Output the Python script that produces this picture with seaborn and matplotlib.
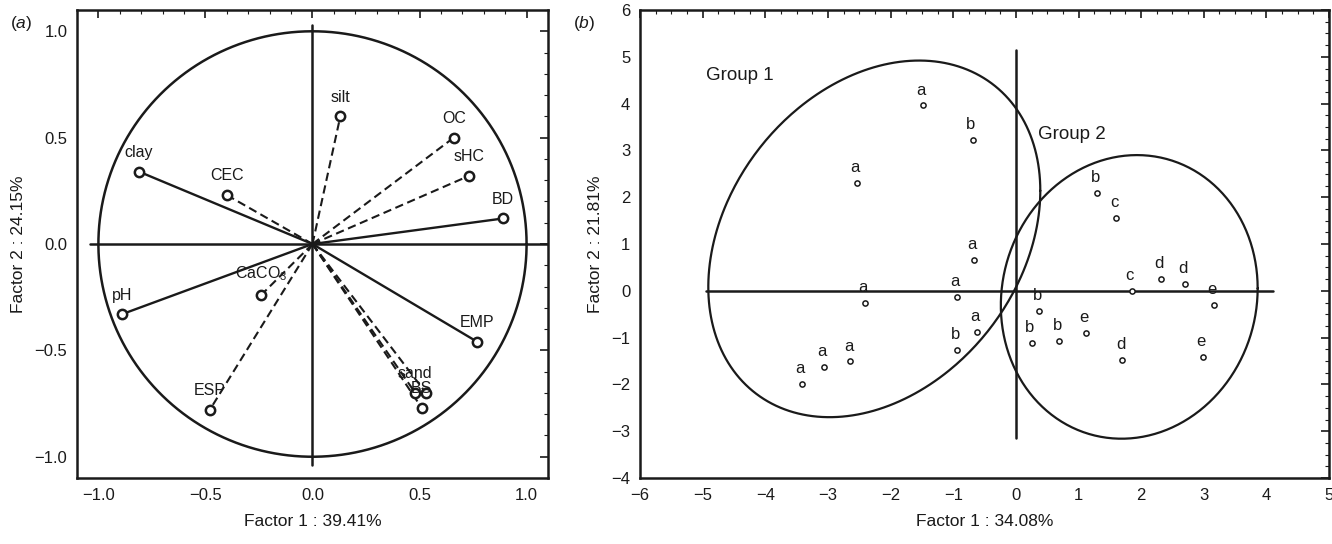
import numpy as np
import pandas as pd
import matplotlib
matplotlib.use('Agg')
import matplotlib.pyplot as plt
import seaborn as sns
from matplotlib.ticker import MultipleLocator

# (a) loadings of the soil variables on factor 1 / factor 2
variables = ['clay', 'CEC', 'silt', 'OC', 'sHC', 'BD', 'pH', 'CaCO$_3$',
             'ESP', 'EMP', 'sand', '', 'BS']
load_f1 = [-0.81, -0.40, 0.13, 0.66, 0.73, 0.89, -0.89, -0.24,
           -0.48, 0.77, 0.48, 0.53, 0.51]
load_f2 = [0.34, 0.23, 0.60, 0.50, 0.32, 0.12, -0.33, -0.24,
           -0.78, -0.46, -0.70, -0.70, -0.77]
solid_vars = ['clay', 'BD', 'pH', 'EMP']

# (b) sample scores, letter = grouping
letters = ['a', 'b', 'a', 'a', 'a', 'a', 'a', 'b', 'a', 'a', 'a',
           'b', 'c', 'd', 'd', 'c', 'e', 'b', 'b', 'b', 'e', 'd', 'e']
score_f1 = [-1.49, -0.69, -2.54, -0.67, -0.94, -2.41, -0.62, -0.94, -2.64, -3.07, -3.41,
            1.30, 1.60, 2.31, 2.70, 1.85, 3.16, 0.37, 0.25, 0.69, 1.12, 1.70, 2.98]
score_f2 = [3.96, 3.23, 2.31, 0.66, -0.13, -0.26, -0.87, -1.27, -1.51, -1.63, -2.00,
            2.10, 1.55, 0.26, 0.14, -0.01, -0.31, -0.44, -1.11, -1.08, -0.90, -1.48, -1.42]

# group ellipses: centre, half extents, correlation
ell_names = ['Group 1', 'Group 2']
ell_cx = [-2.26, 1.81]
ell_cy = [1.11, -0.13]
ell_sx = [2.65, 2.05]
ell_sy = [3.81, 3.03]
ell_rho = [0.27, 0.06]

sns.set_style('white')
plt.rcParams['font.family'] = ['Liberation Sans', 'DejaVu Sans']
plt.rcParams['mathtext.fontset'] = 'custom'
plt.rcParams['mathtext.rm'] = 'Liberation Sans'
plt.rcParams['mathtext.it'] = 'Liberation Sans:italic'

fig = plt.figure(figsize=(13.32, 5.44), dpi=100)
ax1 = fig.add_axes([0.0578, 0.1213, 0.3536, 0.8603])
ax2 = fig.add_axes([0.4805, 0.1213, 0.5173, 0.8603])

ink = '#1a1a1a'

def style_axes(ax, major, minor):
    ax.xaxis.set_major_locator(MultipleLocator(major))
    ax.yaxis.set_major_locator(MultipleLocator(major))
    ax.xaxis.set_minor_locator(MultipleLocator(minor))
    ax.yaxis.set_minor_locator(MultipleLocator(minor))
    ax.tick_params(which='both', direction='in', top=True, right=True,
                   color=ink, labelsize=12, labelcolor=ink, pad=7)
    ax.tick_params(which='major', length=6, width=1.2)
    ax.tick_params(which='minor', length=3, width=0.8)
    for s in ax.spines.values():
        s.set_linewidth(1.8)
        s.set_color(ink)

# ---------- (a) ----------
df_a = pd.DataFrame({'f1': load_f1, 'f2': load_f2, 'var': variables})
t = np.linspace(0, 2 * np.pi, 400)
ax1.plot(np.cos(t), np.sin(t), color=ink, lw=1.8)
ax1.plot([-1.04, 1.1], [0, 0], color=ink, lw=1.8)
ax1.plot([0, 0], [-1.04, 1.03], color=ink, lw=1.8)
for x, y, v in zip(load_f1, load_f2, variables):
    if v in solid_vars:
        ax1.plot([0, x], [0, y], color=ink, lw=1.7)
    else:
        ax1.plot([0, x], [0, y], color=ink, lw=1.5, dashes=(4, 2.2))
sns.scatterplot(data=df_a, x='f1', y='f2', ax=ax1, marker='o', s=45,
                facecolor='white', edgecolor=ink, linewidth=1.8, zorder=5)
for x, y, v in zip(load_f1, load_f2, variables):
    ax1.text(x, y + 0.055, v, ha='center', va='bottom', fontsize=11.5, color=ink, zorder=6)
ax1.set_xlim(-1.1, 1.1)
ax1.set_ylim(-1.1, 1.1)
style_axes(ax1, 0.5, 0.1)
ax1.set_xlabel('Factor 1 : 39.41%', fontsize=12.5, color=ink, labelpad=8)
ax1.set_ylabel('Factor 2 : 24.15%', fontsize=12.5, color=ink, labelpad=6)
fig.text(0.0075, 0.975, '($a$)', fontsize=12.5, color=ink, va='top')

# ---------- (b) ----------
df_b = pd.DataFrame({'f1': score_f1, 'f2': score_f2, 'grp': letters})
for cx, cy, sx, sy, r in zip(ell_cx, ell_cy, ell_sx, ell_sy, ell_rho):
    ex = cx + sx * np.cos(t)
    ey = cy + sy * (r * np.cos(t) + np.sqrt(1 - r ** 2) * np.sin(t))
    ax2.plot(ex, ey, color=ink, lw=1.6)
ax2.plot([-4.95, 4.1], [0, 0], color=ink, lw=1.8)
ax2.plot([0, 0], [-3.15, 5.15], color=ink, lw=1.8)
sns.scatterplot(data=df_b, x='f1', y='f2', ax=ax2, marker='o', s=14,
                facecolor='white', edgecolor=ink, linewidth=1.1, zorder=5)
for x, y, g in zip(score_f1, score_f2, letters):
    ax2.text(x - 0.03, y + 0.17, g, ha='center', va='bottom', fontsize=12, color=ink, zorder=6)
ax2.text(-4.94, 4.6, ell_names[0], ha='left', va='center', fontsize=13.5, color=ink)
ax2.text(0.35, 3.35, ell_names[1], ha='left', va='center', fontsize=13.5, color=ink)
ax2.set_xlim(-6, 5)
ax2.set_ylim(-4, 6)
style_axes(ax2, 1, 0.25)
ax2.set_xlabel('Factor 1 : 34.08%', fontsize=12.5, color=ink, labelpad=8)
ax2.set_ylabel('Factor 2 : 21.81%', fontsize=12.5, color=ink, labelpad=6)
fig.text(0.43, 0.975, '($b$)', fontsize=12.5, color=ink, va='top')

fig.savefig('out.png', dpi=100)
